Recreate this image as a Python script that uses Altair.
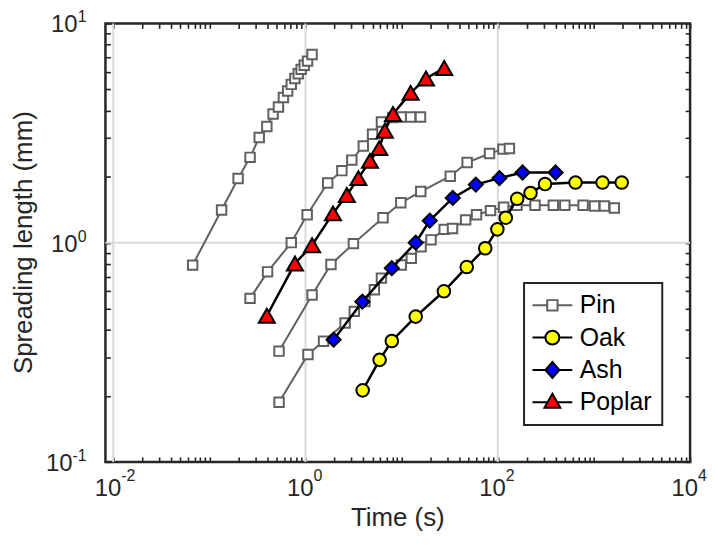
import altair as alt
import pandas as pd

# ---------------- data ----------------
pin1_time = [0.067, 0.134, 0.199, 0.265, 0.330, 0.396, 0.46, 0.523, 0.589, 0.652, 0.711, 0.776, 0.84, 0.90, 0.97, 1.05, 1.17]
pin1_len = [0.79, 1.41, 1.96, 2.45, 3.02, 3.39, 3.86, 4.16, 4.59, 4.92, 5.27, 5.61, 5.89, 6.17, 6.45, 6.73, 7.21]

pin2_time = [0.265, 0.403, 0.711, 1.04, 1.70, 2.39, 3.03, 3.99, 4.98, 6.16, 8.1, 9.9, 12.4, 15.7]
pin2_len = [0.557, 0.736, 1.0, 1.34, 1.87, 2.13, 2.38, 2.76, 3.12, 3.55, 3.72, 3.74, 3.74, 3.74]

pin3_time = [0.53, 1.17, 1.84, 3.15, 6.4, 9.8, 15.8, 32, 48, 82, 113, 132]
pin3_len = [0.32, 0.577, 0.795, 0.99, 1.30, 1.52, 1.71, 2.01, 2.32, 2.55, 2.67, 2.69]

pin4_time = [0.531, 1.06, 1.54, 2.58, 3.22, 4.15, 5.2, 6.16, 9.9, 12.6, 15.9, 20.2, 27.7, 33.8,
             46.3, 60.1, 83.9, 115, 158, 244, 378, 498, 771, 1015, 1285, 1630]
pin4_len = [0.187, 0.309, 0.355, 0.430, 0.486, 0.539, 0.61, 0.689, 0.791, 0.848, 0.957, 1.03, 1.15, 1.16,
            1.27, 1.34, 1.40, 1.45, 1.48, 1.48, 1.48, 1.48, 1.48, 1.47, 1.47, 1.44]

oak_time = [3.93, 5.9, 7.9, 14, 27.5, 47.5, 74, 99, 121, 159, 219, 310, 643, 1228, 1945]
oak_len = [0.212, 0.292, 0.356, 0.46, 0.60, 0.774, 0.943, 1.15, 1.30, 1.585, 1.685, 1.85, 1.88, 1.88, 1.88]

ash_time = [1.96, 3.9, 7.9, 14, 19.6, 34, 59, 104, 181, 399]
ash_len = [0.361, 0.538, 0.765, 1.0, 1.26, 1.60, 1.84, 1.97, 2.09, 2.09]

poplar_time = [0.396, 0.776, 1.17, 1.93, 2.69, 3.55, 4.68, 5.85, 6.68, 8.13, 12.4, 17.9, 27.7]
poplar_len = [0.464, 0.803, 0.973, 1.36, 1.65, 1.97, 2.36, 2.70, 3.24, 3.86, 4.82, 5.61, 6.26]

series_names = ["Pin", "Oak", "Ash", "Poplar"]

x_major = [0.01, 1, 100, 10000]
x_major_exp = ["-2", "0", "2", "4"]
y_major = [0.1, 1, 10]
y_major_exp = ["-1", "0", "1"]
x_grid = [0.01, 1, 100]
y_grid = [1]

x_title = "Time (s)"
y_title = "Spreading length (mm)"

# ---------------- styling ----------------
W, H = 588, 441
FONT = "Liberation Sans"
AXC = "#262626"
PIN_GRAY = "#606060"
marker_fill = ["white", "#ffff00", "#0000ff", "#ff0000"]
marker_edge = [PIN_GRAY, "black", "black", "black"]

xscale = alt.Scale(type="log", domain=[0.0083, 10000], nice=False)
yscale = alt.Scale(type="log", domain=[0.1, 10], nice=False)


def minor_values(lo, hi):
    out = []
    for e in range(lo, hi):
        for d in range(1, 10):
            out.append(round(d * 10.0 ** e, 10))
    out.append(10.0 ** hi)
    return out


x_tick_values = minor_values(-2, 4)
y_tick_values = minor_values(-1, 1)

tick_common = dict(labels=False, domain=False, grid=False, ticks=True, tickSize=5,
                   tickWidth=1.6, tickColor=AXC, offset=-5, title=None)
ax_bottom = alt.Axis(orient="bottom", values=x_tick_values, **tick_common)
ax_top = alt.Axis(orient="top", values=x_tick_values, **tick_common)
ax_left = alt.Axis(orient="left", values=y_tick_values, **tick_common)
ax_right = alt.Axis(orient="right", values=y_tick_values, **tick_common)

# ---------------- long table ----------------
rows = []
for run, (ts, ls) in enumerate([(pin1_time, pin1_len), (pin2_time, pin2_len),
                                 (pin3_time, pin3_len), (pin4_time, pin4_len)]):
    for t, l in zip(ts, ls):
        rows.append({"series": "Pin", "run": f"Pin{run}", "t": t, "L": l})
for name, ts, ls in [("Oak", oak_time, oak_len), ("Ash", ash_time, ash_len),
                     ("Poplar", poplar_time, poplar_len)]:
    for t, l in zip(ts, ls):
        rows.append({"series": name, "run": name, "t": t, "L": l})
df = pd.DataFrame(rows)


def X(axis=None):
    return alt.X("t:Q", scale=xscale, axis=axis)


def Y(axis=None):
    return alt.Y("L:Q", scale=yscale, axis=axis)


layers = []

# grid
layers.append(alt.Chart(pd.DataFrame({"t": x_grid})).mark_rule(color="#dadada", strokeWidth=2)
              .encode(x=X(ax_bottom)))
layers.append(alt.Chart(pd.DataFrame({"L": y_grid})).mark_rule(color="#dadada", strokeWidth=2)
              .encode(y=Y(ax_left)))

base = alt.Chart(df)
# Pin
pin = base.transform_filter("datum.series == 'Pin'")
layers.append(pin.mark_line(color=PIN_GRAY, strokeWidth=2).encode(x=X(ax_top), y=Y(ax_right), detail="run:N"))
layers.append(pin.mark_point(shape="square", filled=True, fill="white", stroke=PIN_GRAY,
                             strokeWidth=2, size=90, opacity=1).encode(x=X(), y=Y()))

for name, shape, fill, size in [("Oak", "circle", "#ffff00", 160),
                                 ("Ash", "diamond", "#0000ff", 200),
                                 ("Poplar", "triangle-up", "#ff0000", 260)]:
    s = base.transform_filter(f"datum.series == '{name}'")
    layers.append(s.mark_line(color="black", strokeWidth=2.5).encode(x=X(), y=Y()))
    layers.append(s.mark_point(shape=shape, filled=True, fill=fill, stroke="black",
                               strokeWidth=2, size=size, opacity=1).encode(x=X(), y=Y()))

# tick labels (10 with superscript exponent)
xl = alt.Chart(pd.DataFrame({"t": x_major, "e": x_major_exp}))
layers.append(xl.mark_text(align="right", baseline="alphabetic", fontSize=24, font=FONT, color=AXC, dx=8)
              .encode(x=X(), y=alt.value(H + 34), text=alt.value("10")))
layers.append(xl.mark_text(align="left", baseline="alphabetic", fontSize=16, font=FONT, color=AXC, dx=8)
              .encode(x=X(), y=alt.value(H + 19), text="e:N"))

yl = alt.Chart(pd.DataFrame({"L": y_major, "e": y_major_exp}))
layers.append(yl.mark_text(align="right", baseline="alphabetic", fontSize=16, font=FONT, color=AXC, dy=-1)
              .encode(y=Y(), x=alt.value(-19), text="e:N"))
layers.append(yl.transform_filter("indexof(datum.e, '-') >= 0")
              .mark_text(align="right", baseline="alphabetic", fontSize=24, font=FONT, color=AXC, dx=-14, dy=9)
              .encode(y=Y(), x=alt.value(-19), text=alt.value("10")))
layers.append(yl.transform_filter("indexof(datum.e, '-') < 0")
              .mark_text(align="right", baseline="alphabetic", fontSize=24, font=FONT, color=AXC, dx=-9, dy=9)
              .encode(y=Y(), x=alt.value(-19), text=alt.value("10")))

# axis titles
layers.append(alt.Chart(pd.DataFrame({"txt": [x_title]})).mark_text(
    align="center", baseline="alphabetic", fontSize=26, font=FONT, color=AXC)
    .encode(x=alt.value(W / 2), y=alt.value(H + 64), text="txt:N"))
layers.append(alt.Chart(pd.DataFrame({"txt": [y_title]})).mark_text(
    align="center", baseline="alphabetic", fontSize=26, font=FONT, color=AXC, angle=270)
    .encode(x=alt.value(-74), y=alt.value(H / 2), text="txt:N"))

# legend (line + marker symbols)
legend_paths = [
    "M-1.4,0H0.08M1.12,0H2.6M0.08,-0.52H1.12V0.52H0.08Z",
    "M-1.4,0H-0.1M1.3,0H2.6M-0.1,0A0.7,0.7 0 1,0 1.3,0A0.7,0.7 0 1,0 -0.1,0Z",
    "M-1.4,0H-0.1M1.3,0H2.6M0.6,-0.8L1.3,0L0.6,0.8L-0.1,0Z",
    "M-1.4,0H0.12M1.08,0H2.6M0.6,-0.85L1.4,0.55L-0.2,0.55Z",
]
leg = dict(title=None, orient="none", legendX=421, legendY=261, padding=10,
           strokeColor=AXC, fillColor="white", labelFont=FONT, labelFontSize=25,
           labelColor="black", labelOffset=21, symbolSize=400, symbolStrokeWidth=2,
           rowPadding=6.5)
layers.append(alt.Chart(pd.DataFrame({"series": series_names})).transform_filter("false")
              .mark_point(filled=True, opacity=1, strokeWidth=2)
              .encode(shape=alt.Shape("series:N", scale=alt.Scale(domain=series_names, range=legend_paths),
                                      legend=alt.Legend(**leg)),
                      fill=alt.Fill("series:N", scale=alt.Scale(domain=series_names, range=marker_fill),
                                    legend=alt.Legend(**leg)),
                      stroke=alt.Stroke("series:N", scale=alt.Scale(domain=series_names, range=marker_edge),
                                        legend=alt.Legend(**leg))))

chart = (alt.layer(*layers)
         .resolve_axis(x="independent", y="independent")
         .properties(width=W, height=H,
                     padding={"left": 98, "top": 14, "right": 17, "bottom": 70},
                     autosize=alt.AutoSizeParams(type="none"), background="white")
         .configure_view(stroke=AXC, strokeWidth=2.5)
         .configure_legend(strokeWidth=2))

chart.save("out.html", embed_options={"renderer": "svg", "actions": False})
